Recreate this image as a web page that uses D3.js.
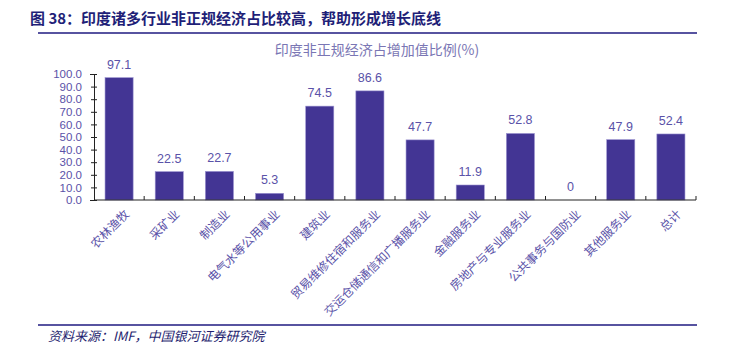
<!DOCTYPE html>
<html>
<head>
<meta charset="utf-8">
<script src="https://cdn.jsdelivr.net/npm/d3@7"></script>
<style>
  body { margin: 0; background: #fff; }
  svg { display: block; }
</style>
</head>
<body>
<script>
// data
var categories = ["农林渔牧", "采矿业", "制造业", "电气水等公用事业", "建筑业",
  "贸易维修住宿和服务业", "交运仓储通信和广播服务业", "金融服务业",
  "房地产与专业服务业", "公共事务与国防业", "其他服务业", "总计"];
var shares = [97.1, 22.5, 22.7, 5.3, 74.5, 86.6, 47.7, 11.9, 52.8, 0, 47.9, 52.4];
var shareLabels = ["97.1", "22.5", "22.7", "5.3", "74.5", "86.6", "47.7", "11.9", "52.8", "0", "47.9", "52.4"];
var yTicks = [0, 10, 20, 30, 40, 50, 60, 70, 80, 90, 100];

var svgWidth = 738;
var svgHeight = 352;

var chartMargin = { top: 74, left: 94, right: 42, bottom: 152 };
var chartWidth = svgWidth - chartMargin.left - chartMargin.right;
var chartHeight = svgHeight - chartMargin.top - chartMargin.bottom;

var svg = d3.select("body")
  .append("svg")
  .attr("width", svgWidth)
  .attr("height", svgHeight);

// figure heading
svg.append("text")
  .attr("x", 30)
  .attr("y", 24)
  .attr("font-family", "Noto Sans CJK SC")
  .attr("font-weight", "bold")
  .attr("font-size", 15)
  .attr("fill", "#1f1f78")
  .text("图 38：印度诸多行业非正规经济占比较高，帮助形成增长底线");

svg.append("line")
  .attr("x1", 38).attr("x2", 697)
  .attr("y1", 33).attr("y2", 33)
  .attr("stroke", "#1f1a80").attr("stroke-width", 1.5);

svg.append("line")
  .attr("x1", 38).attr("x2", 697)
  .attr("y1", 325).attr("y2", 325)
  .attr("stroke", "#1f1a80").attr("stroke-width", 1.5);

svg.append("text")
  .attr("x", 48)
  .attr("y", 341)
  .attr("font-family", "Noto Sans CJK SC")
  .attr("font-style", "italic")
  .attr("font-size", 13)
  .attr("fill", "#1f1f70")
  .text("资料来源：IMF，中国银河证券研究院");

// chart title
svg.append("text")
  .attr("x", 377)
  .attr("y", 55)
  .attr("text-anchor", "middle")
  .attr("font-family", "Noto Sans CJK SC")
  .attr("font-size", 14)
  .attr("fill", "#7a76b4")
  .text("印度非正规经济占增加值比例(%)");

var chartGroup = svg.append("g")
  .attr("transform", `translate(${chartMargin.left}, ${chartMargin.top})`);

var xBandScale = d3.scaleBand()
  .domain(categories)
  .range([0, chartWidth])
  .paddingInner(0.44)
  .paddingOuter(0.22);

var yLinearScale = d3.scaleLinear()
  .domain([0, 100])
  .range([chartHeight, 0]);

// y axis
var leftAxis = d3.axisLeft(yLinearScale)
  .tickValues(yTicks)
  .tickFormat(d3.format(".1f"))
  .tickSize(4);

var yAxisG = chartGroup.append("g").call(leftAxis);
yAxisG.select(".domain").attr("stroke", "#222");
yAxisG.selectAll(".tick line").attr("stroke", "#222").attr("x2", 3).attr("x1", -3);
yAxisG.selectAll(".tick text")
  .attr("x", -12)
  .attr("font-family", "Liberation Sans, Arial")
  .attr("font-size", 11.5)
  .attr("fill", "#5a52a8");

// bars
chartGroup.selectAll(".bar")
  .data(shares)
  .enter()
  .append("rect")
  .attr("class", "bar")
  .attr("x", (d, i) => xBandScale(categories[i]))
  .attr("y", d => yLinearScale(d))
  .attr("width", xBandScale.bandwidth())
  .attr("height", d => chartHeight - yLinearScale(d))
  .attr("fill", "#433594")
  .attr("stroke", "#9a92d0")
  .attr("stroke-width", d => d > 0 ? 0.6 : 0);

// value labels
chartGroup.selectAll(".val")
  .data(shares)
  .enter()
  .append("text")
  .attr("class", "val")
  .attr("x", (d, i) => xBandScale(categories[i]) + xBandScale.bandwidth() / 2)
  .attr("y", d => yLinearScale(d) - 9)
  .attr("text-anchor", "middle")
  .attr("font-family", "Liberation Sans, Arial")
  .attr("font-size", 12.5)
  .attr("fill", "#5a52a8")
  .text((d, i) => shareLabels[i]);

// x axis with ticks at category boundaries
var step = xBandScale.step();
var xAxisG = chartGroup.append("g")
  .attr("transform", `translate(0, ${chartHeight})`);

xAxisG.append("line")
  .attr("x1", 0).attr("x2", chartWidth)
  .attr("y1", 0).attr("y2", 0)
  .attr("stroke", "#222");

xAxisG.selectAll(".bnd")
  .data(d3.range(1, categories.length + 1))
  .enter()
  .append("line")
  .attr("class", "bnd")
  .attr("x1", i => xBandScale(categories[i - 1]) + xBandScale.bandwidth() / 2 + step / 2)
  .attr("x2", i => xBandScale(categories[i - 1]) + xBandScale.bandwidth() / 2 + step / 2)
  .attr("y1", 0).attr("y2", -4)
  .attr("stroke", "#222");

xAxisG.selectAll(".cat")
  .data(categories)
  .enter()
  .append("text")
  .attr("class", "cat")
  .attr("transform", d => `translate(${xBandScale(d) + xBandScale.bandwidth() / 2 + 8}, 12) rotate(-45)`)
  .attr("text-anchor", "end")
  .attr("dy", "0.35em")
  .attr("font-family", "Noto Sans CJK SC")
  .attr("font-size", 12)
  .attr("fill", "#5a52a8")
  .text(d => d);
</script>
</body>
</html>
